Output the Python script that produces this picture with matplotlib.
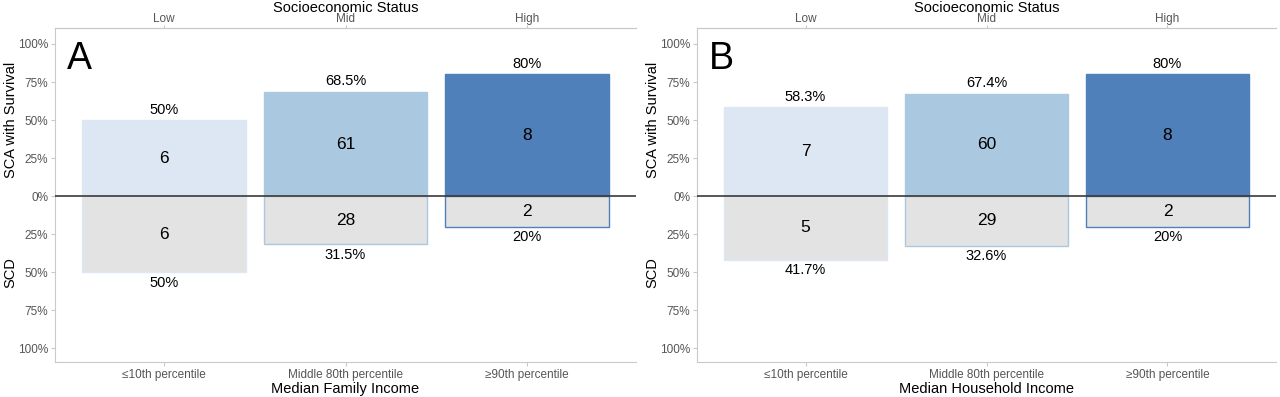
import matplotlib
matplotlib.use("Agg")
import matplotlib.pyplot as plt
import matplotlib.transforms as mtransforms
import numpy as np

plt.rcParams['font.family'] = ['Liberation Sans', 'DejaVu Sans']

# categories
income_groups = ['\u226410th percentile', 'Middle 80th percentile', '\u226590th percentile']
ses_groups = ['Low', 'Mid', 'High']

# panel A: median family income
a_sca_pct = [50.0, 68.5, 80.0]
a_sca_n = [6, 61, 8]
a_scd_pct = [50.0, 31.5, 20.0]
a_scd_n = [6, 28, 2]

# panel B: median household income
b_sca_pct = [58.3, 67.4, 80.0]
b_sca_n = [7, 60, 8]
b_scd_pct = [41.7, 32.6, 20.0]
b_scd_n = [5, 29, 2]

colors = ['#dde6f3', '#aac8df', '#5080ba']
gray_fill = '#e3e3e3'
axis_gray = '#c9c9c9'
tick_col = '#555555'


def fmt_pct(v):
    return f'{v:g}%'


def draw_panel(fig, ax, letter, xtitle, sca_pct, sca_n, scd_pct, scd_n):
    x = np.arange(len(income_groups))
    ax.bar(x, sca_pct, width=0.9, color=colors, edgecolor=colors, linewidth=1)
    ax.bar(x, -np.array(scd_pct), width=0.9, color=gray_fill, edgecolor=colors, linewidth=1)
    ax.axhline(0, color='#3a3a3a', lw=1.2, zorder=3)

    # counts in the middle of each bar, percentages outside
    for i in range(len(x)):
        ax.text(x[i], sca_pct[i] / 2, str(sca_n[i]), ha='center', va='center', fontsize=12.5)
        ax.text(x[i], -scd_pct[i] / 2, str(scd_n[i]), ha='center', va='center', fontsize=12.5)
        ax.annotate(fmt_pct(sca_pct[i]), (x[i], sca_pct[i]), xytext=(0, 2.5),
                    textcoords='offset points', ha='center', va='bottom', fontsize=10.5)
        ax.annotate(fmt_pct(scd_pct[i]), (x[i], -scd_pct[i]), xytext=(0, -2.5),
                    textcoords='offset points', ha='center', va='top', fontsize=10.5)

    ax.set_xlim(-0.6, 2.6)
    ax.set_ylim(-109, 110.5)
    yt = [-100, -75, -50, -25, 0, 25, 50, 75, 100]
    ax.set_yticks(yt)
    ax.set_yticklabels([f'{abs(v)}%' for v in yt])
    ax.set_xticks(x)
    ax.set_xticklabels(income_groups)
    ax.set_xlabel(xtitle, fontsize=10.5, labelpad=1)

    for s in ['left', 'bottom', 'top']:
        ax.spines[s].set_color(axis_gray)
    ax.spines['right'].set_visible(False)
    ax.tick_params(axis='both', colors=axis_gray, labelcolor=tick_col, labelsize=8.5, length=3, pad=2)

    top = ax.secondary_xaxis('top')
    top.set_xticks(x)
    top.set_xticklabels(ses_groups)
    top.tick_params(colors=axis_gray, labelcolor=tick_col, labelsize=8.5, length=2, pad=0)
    top.spines['top'].set_color(axis_gray)
    # top axis title placed by hand so it sits tight above the tick labels
    trans = mtransforms.blended_transform_factory(ax.transAxes, fig.transFigure)
    ax.text(0.5, 1 - 8.5 / 397, 'Socioeconomic Status', transform=trans,
            ha='center', va='center', fontsize=10.5)

    ax.annotate('SCA with Survival', xy=(0, 50), xycoords=('axes fraction', 'data'),
                xytext=(-32, 0), textcoords='offset points', rotation=90,
                ha='center', va='center', fontsize=10.5)
    ax.annotate('SCD', xy=(0, -50), xycoords=('axes fraction', 'data'),
                xytext=(-32, 0), textcoords='offset points', rotation=90,
                ha='center', va='center', fontsize=10.5)

    ax.text(0.02, 0.96, letter, transform=ax.transAxes, fontsize=27, ha='left', va='top')


fig = plt.figure(figsize=(12.8, 3.97), dpi=100)
ax1 = fig.add_axes([55 / 1280, 1 - 362 / 397, 581 / 1280, 334 / 397])
ax2 = fig.add_axes([697 / 1280, 1 - 362 / 397, 579 / 1280, 334 / 397])

draw_panel(fig, ax1, 'A', 'Median Family Income', a_sca_pct, a_sca_n, a_scd_pct, a_scd_n)
draw_panel(fig, ax2, 'B', 'Median Household Income', b_sca_pct, b_sca_n, b_scd_pct, b_scd_n)

fig.savefig('out.png', dpi=100)
